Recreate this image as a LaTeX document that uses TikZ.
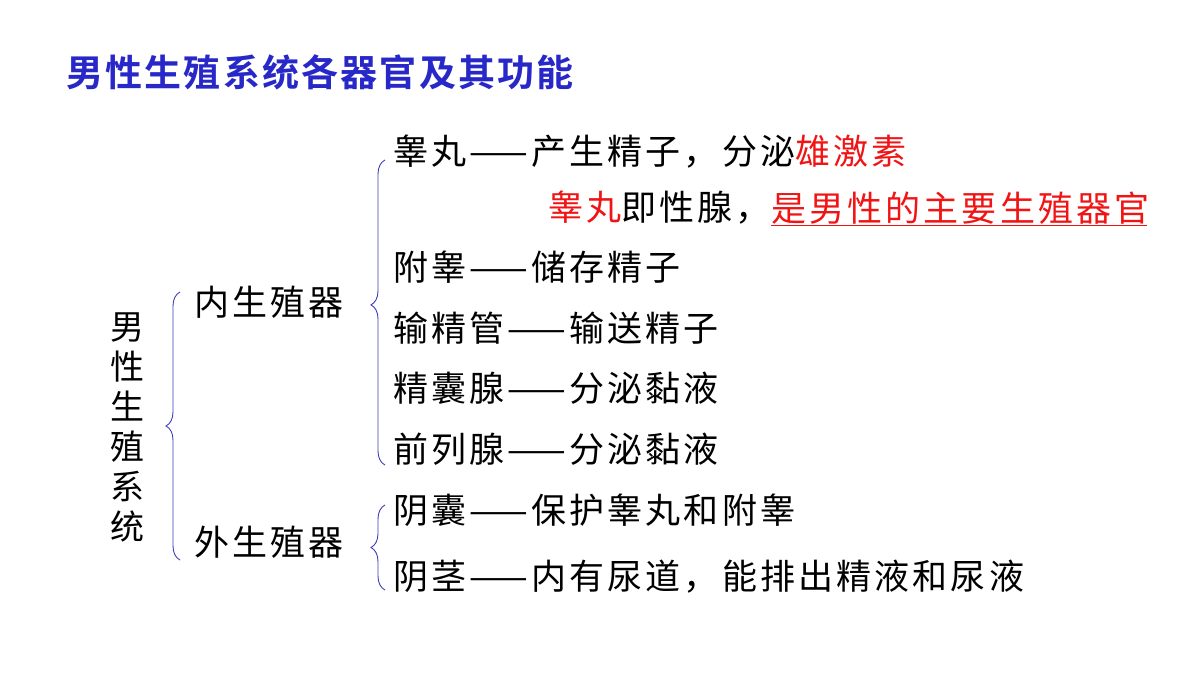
\documentclass[tikz,border=0pt]{standalone}
\usepackage{fontspec}
\newfontfamily\cjk[LetterSpace=9]{Noto Sans CJK SC}
\newfontfamily\cjkb[LetterSpace=6]{Noto Sans CJK SC Bold}
\usetikzlibrary{decorations.pathreplacing}
\definecolor{ttl}{RGB}{40,40,200}
\definecolor{brc}{RGB}{60,60,190}
\definecolor{rd}{RGB}{240,20,20}
\begin{document}
\begin{tikzpicture}[x=1pt,y=-1pt,
  txt/.style={anchor=west,inner sep=0pt,font=\cjk\fontsize{35}{35}\selectfont},
  br/.style={draw=brc,line width=0.9pt,decorate,decoration={brace,amplitude=14pt,mirror}}]
\useasboundingbox (0,0) rectangle (1200,675);
\node[anchor=west,inner sep=0pt,text=ttl,font=\cjkb\fontsize{37}{37}\selectfont] (title) at (66,72) {男性生殖系统各器官及其功能};
\node[inner sep=0pt,align=center,font=\cjk\fontsize{34}{40}\selectfont] (sys) at (127,427) {男\\性\\生\\殖\\系\\统};
\node[txt] (nei) at (194,302) {内生殖器};
\node[txt] (wai) at (194,542) {外生殖器};
\node[txt] (a1) at (393,152) {睾丸——产生精子，分泌\textcolor{rd}{雄激素}};
\node[txt] (a2) at (548,208) {\textcolor{rd}{睾丸}即性腺，};
\node[txt,text=rd] (a2b) at (a2.east) {是男性的主要生殖器官};
\draw[rd,line width=1pt] ([yshift=-17pt]a2b.west) -- ([yshift=-17pt,xshift=-3pt]a2b.east);
\node[txt] (a3) at (393,267) {附睾——储存精子};
\node[txt] (a4) at (393,328) {输精管——输送精子};
\node[txt] (a5) at (393,388) {精囊腺——分泌黏液};
\node[txt] (a6) at (393,449) {前列腺——分泌黏液};
\node[txt] (b1) at (393,510) {阴囊——保护睾丸和附睾};
\node[txt] (b2) at (393,577) {阴茎——内有尿道，能排出精液和尿液};
\coordinate (o1) at (180,292); \coordinate (o2) at (180,560);
\draw[br] (o1) -- (o2);
\coordinate (i1) at (385,160); \coordinate (i2) at (385,465);
\draw[br,decoration={amplitude=14pt,aspect=0.475}] (i1) -- (i2);
\coordinate (j1) at (385,505); \coordinate (j2) at (385,590);
\draw[br] (j1) -- (j2);
\end{tikzpicture}
\end{document}
